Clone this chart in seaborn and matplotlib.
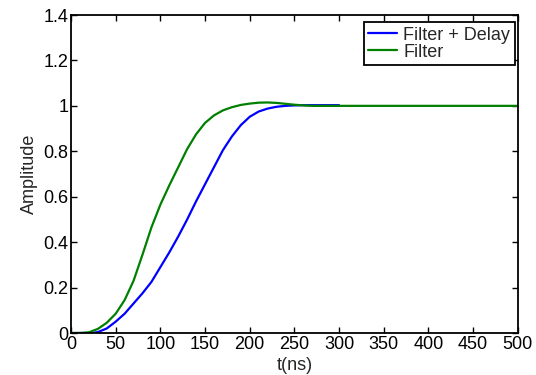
import seaborn as sns
import pandas as pd
import numpy as np
from matplotlib import pyplot as plt

# values
t_delay = [0, 20, 25, 30, 40, 50, 60, 70, 80, 90, 100, 110, 120, 130, 140,
           150, 160, 170, 180, 190, 200, 210, 220, 230, 240, 250, 260, 270,
           280, 290, 300]
amp_delay = [0, 0, 0.001, 0.004, 0.02, 0.05, 0.085, 0.13, 0.175, 0.225, 0.29,
             0.355, 0.425, 0.5, 0.58, 0.655, 0.73, 0.805, 0.865, 0.915, 0.952,
             0.975, 0.988, 0.996, 1.0, 1.002, 1.003, 1.003, 1.003, 1.003, 1.003]

t_filter = [0, 10, 20, 30, 40, 50, 60, 70, 80, 90, 100, 110, 120, 130, 140,
            150, 160, 170, 180, 190, 200, 210, 220, 230, 240, 250, 260, 270,
            300, 350, 400, 450, 500]
amp_filter = [0, 0, 0.003, 0.018, 0.045, 0.085, 0.145, 0.23, 0.345, 0.465,
              0.565, 0.65, 0.73, 0.81, 0.875, 0.925, 0.958, 0.98, 0.994,
              1.004, 1.01, 1.014, 1.015, 1.013, 1.009, 1.005, 1.002, 1.0,
              1.0, 1.0, 1.0, 1.0, 1.0]

xticks = list(range(0, 501, 50))
yticks = [0, 0.2, 0.4, 0.6, 0.8, 1, 1.2, 1.4]
ylabels = ['0', '0.2', '0.4', '0.6', '0.8', '1', '1.2', '1.4']

sns.set_style("ticks")
plt.rcParams['font.family'] = ['Liberation Sans', 'DejaVu Sans']

fig = plt.figure(figsize=(5.36, 3.75), dpi=100)
ax = fig.add_axes([0.1325, 0.112, 0.8335, 0.848])

df1 = pd.DataFrame({'t': t_delay, 'amp': amp_delay})
df2 = pd.DataFrame({'t': t_filter, 'amp': amp_filter})
sns.lineplot(data=df1, x='t', y='amp', color=(0, 0, 1), lw=1.6,
             label='Filter + Delay', ax=ax)
sns.lineplot(data=df2, x='t', y='amp', color=(0, 0.5, 0), lw=1.6,
             label='Filter', ax=ax)

fs = 13
ax.set_xlim(0, 500)
ax.set_ylim(0, 1.4)
ax.set_xticks(xticks)
ax.set_yticks(yticks)
ax.set_yticklabels(ylabels)
ax.tick_params(direction='in', top=True, right=True, length=4, width=1,
               labelsize=fs, colors='black', pad=2)
for s in ax.spines.values():
    s.set_visible(True)
    s.set_linewidth(1.3)
    s.set_color('black')
ax.set_xlabel('t(ns)', fontsize=fs, labelpad=3)
ax.set_ylabel('Amplitude', fontsize=fs, labelpad=4)

leg = ax.legend(loc='upper right', bbox_to_anchor=(0.993, 0.978),
                fontsize=fs, fancybox=False, framealpha=1, edgecolor='black',
                borderpad=0.25, labelspacing=0.0, handlelength=1.6,
                handletextpad=0.35, borderaxespad=0)
leg.get_frame().set_linewidth(1.3)

fig.savefig('out.png', dpi=100)
